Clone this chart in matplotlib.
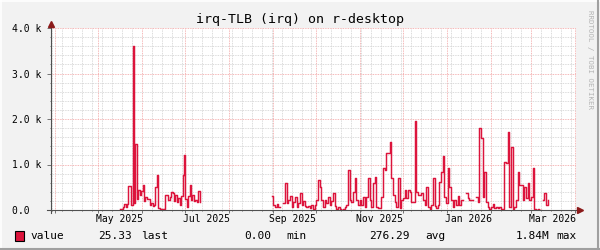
import numpy as np
import pandas as pd
import matplotlib
matplotlib.use('Agg')
import matplotlib.pyplot as plt
import matplotlib.dates as mdates
from matplotlib.patches import Rectangle
from matplotlib.lines import Line2D

# first block of data (May - Jul 2025), one value per day
spring_start = '2025-05-16 12:00'
spring_values = [20, 20, 60, 130, 60, 130, 530, 530, 100, 3600,
                 150, 1450, 250, 450, 330, 420, 550, 200, 280, 250,
                 240, 120, 150, 90, 120, 510, 770, 50, 20, 20,
                 20, 30, 340, 340, 230, 290, 400, 380, 200, 320,
                 180, 260, 120, 310, 770, 1210, 250, 70, 300, 550,
                 220, 330, 200, 210, 180, 420, 180]

# second block (Sep 2025 - Mar 2026), one value every 28 hours, nan = no data
nan = np.nan
autumn_start = '2025-08-31 00:00'
autumn_values = [310, 110, 70, 130, 60, nan, nan, 150, 590, 150,
                 220, 310, 60, 180, 280, 70, 150, 370, 110, 200,
                 90, 60, 90, 45, 110, 20, 100, 220, 660, 510,
                 220, 60, 230, 150, 280, 110, 200, 380, 90, 15,
                 60, 15, 0, 15, 60, 110, 890, 220, 180, 400,
                 700, 220, 110, 220, 110, 290, 60, 290, 700, 220,
                 70, 590, 730, 70, 35, 35, 290, 920, 880, 1250,
                 1250, 1500, 700, 330, 180, 70, 700, 35, 220, 260,
                 440, 260, 440, 400, 180, 180, 1960, 400, 330,
                 330, 380, 220, 110, 510, 60, 15, 110, 700, 90,
                 35, 110, 620, 840, 1190, 290, 150, 920, 510, 220,
                 60, 230, 110, 310, 110, 220, nan, nan, 370, 260,
                 220, 220, nan, nan, 280, 180, 1800, 1580, 290, 840,
                 180, 60, 15, 60, 130, 35, 60, 35, 60, 15,
                 15, 1060, 1040, 1720, 60, 1390, 15, 60, 230, 840,
                 550, 550, 220, 510, 260, 590, 220, 290, 920, 15,
                 0, 15, 0, nan, 220, 370, 110, 230]

view_start = '2025-03-29 05:00'
view_end = '2026-04-01 15:00'

label_dates = ['2025-05-16', '2025-07-16', '2025-09-15', '2025-11-15', '2026-01-16', '2026-03-16']
label_texts = ['May 2025', 'Jul 2025', 'Sep 2025', 'Nov 2025', 'Jan 2026', 'Mar 2026']

y_ticks = [0, 1000, 2000, 3000, 4000]
y_labels = ['0.0  ', '1.0 k', '2.0 k', '3.0 k', '4.0 k']

legend_name = 'value'
stat_values = ['25.33', '0.00', '276.29', '1.84M']
stat_names = ['last', 'min', 'avg', 'max']

spring_dates = pd.date_range(spring_start, periods=len(spring_values), freq='24h')
autumn_dates = pd.date_range(autumn_start, periods=len(autumn_values), freq='28h')

plt.rcParams['font.family'] = ['DejaVu Sans Mono']
line_color = '#DC143C'

fig = plt.figure(figsize=(6, 2.5), dpi=100, facecolor='#F2F2F2')
ax = fig.add_axes([51/600, 40/250, 525/600, 182/250])
ax.set_facecolor('white')

ax.step(spring_dates, spring_values, where='post', color=line_color, lw=1.05, zorder=3)
ax.step(autumn_dates, autumn_values, where='post', color=line_color, lw=1.05, zorder=3)

ax.set_xlim(pd.Timestamp(view_start), pd.Timestamp(view_end))
ax.set_ylim(0, 4000)

# grid: months / weeks, 1k / 200
ax.xaxis.set_major_locator(mdates.MonthLocator())
ax.xaxis.set_minor_locator(mdates.WeekdayLocator(byweekday=mdates.SU))
ax.set_yticks(y_ticks)
ax.set_yticklabels(y_labels)
ax.set_yticks(np.arange(0, 4001, 200), minor=True)
ax.grid(which='minor', color='#CFCFCF', linestyle=(0, (1, 1)), linewidth=0.6, zorder=0)
ax.grid(which='major', color='#F2A0A0', linestyle=(0, (1, 1)), linewidth=0.6, zorder=1)
ax.tick_params(axis='x', which='both', labelbottom=False, direction='out', length=2, width=0.6, color='#606060')
ax.tick_params(axis='x', which='minor', length=1)
ax.tick_params(axis='y', which='major', direction='out', length=3, width=0.6, color='#606060',
               labelsize=7, pad=4)
ax.tick_params(axis='y', which='minor', direction='out', length=1, width=0.6, color='#606060')
for s in ax.spines.values():
    s.set_visible(False)

for d, t in zip(label_dates, label_texts):
    ax.text(pd.Timestamp(d), -0.05, t, transform=ax.get_xaxis_transform(),
            ha='center', va='center', fontsize=7)

# axes with arrows
ax.plot([-0.008, 1.004], [0, 0], transform=ax.transAxes, clip_on=False, color='#505050', lw=0.8, zorder=4)
ax.plot([0, 0], [-0.015, 1.01], transform=ax.transAxes, clip_on=False, color='#505050', lw=0.8, zorder=4)
ax.plot([1.008], [0], marker='>', ms=4, color='#8B1A1A', transform=ax.transAxes, clip_on=False, zorder=5)
ax.plot([0], [1.022], marker='^', ms=4, color='#8B1A1A', transform=ax.transAxes, clip_on=False, zorder=5)

# title and side text
fig.text(0.5, 1 - 19.5/250, 'irq-TLB (irq) on r-desktop', ha='center', va='center', fontsize=9.5)
fig.text(590/600, 1 - 60/250, 'RRDTOOL / TOBI OETIKER', rotation=270, ha='center', va='center',
         fontsize=5.3, color='#B4B4B4')

# legend row
ly = 1 - 236/250
fig.add_artist(Rectangle((15/600, 1 - 241/250), 9/600, 10/250, transform=fig.transFigure,
                         facecolor=line_color, edgecolor='black', lw=0.8))
fig.text(30/600, ly, legend_name, ha='left', va='center', fontsize=8)
value_right = [132, 271, 410, 549]
name_left = [141, 286, 425, 556]
for v, n, xr, xl in zip(stat_values, stat_names, value_right, name_left):
    fig.text(xr/600, ly, v, ha='right', va='center', fontsize=8)
    fig.text(xl/600, ly, n, ha='left', va='center', fontsize=8)

# frame shading
fig.add_artist(Line2D([0, 1], [0.998, 0.998], transform=fig.transFigure, color='white', lw=1.2))
fig.add_artist(Line2D([0.0015, 0.0015], [0, 1], transform=fig.transFigure, color='white', lw=1.2))
fig.add_artist(Line2D([0, 1], [0.004, 0.004], transform=fig.transFigure, color='#A0A0A0', lw=1.5))
fig.add_artist(Line2D([0.997, 0.997], [0, 1], transform=fig.transFigure, color='#A0A0A0', lw=1.5))

fig.savefig('out.png', dpi=100, facecolor=fig.get_facecolor())
